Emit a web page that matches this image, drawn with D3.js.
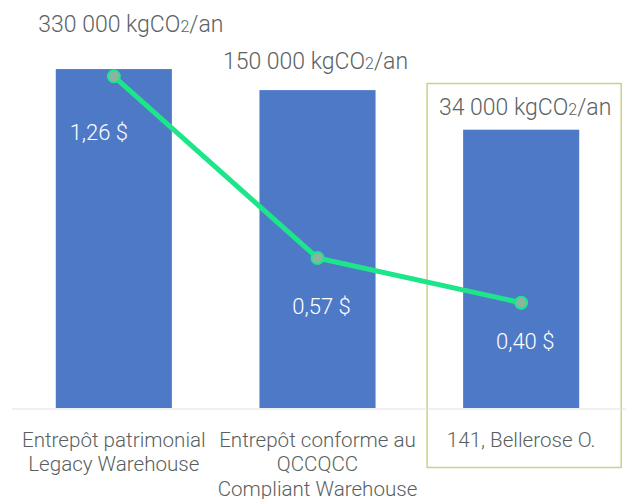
<!DOCTYPE html>
<html>
<head>
<meta charset="utf-8">
<script src="https://cdn.jsdelivr.net/npm/d3@7"></script>
<style>
  body { margin: 0; background: #fff; }
  text { font-family: Roboto, sans-serif; font-weight: 300; }
</style>
</head>
<body>
<div id="chart"></div>
<script>
// chart data
var categories = [
    ["Entrepôt patrimonial", "Legacy Warehouse"],
    ["Entrepôt conforme au", "QCCQCC", "Compliant Warehouse"],
    ["141, Bellerose O."]
];
var emissions = [330000, 150000, 34000];       // kgCO2/an
var emissionLabels = ["330 000", "150 000", "34 000"];
var costs = [1.26, 0.57, 0.40];                 // $
var costLabels = ["1,26 $", "0,57 $", "0,40 $"];

// set the dimensions
var width = 626,
    height = 499,
    baseline = 408,
    plotTop = 39.5;

var svg = d3.select("#chart").append("svg")
    .attr("width", width)
    .attr("height", height);

// scales
var x = d3.scaleBand()
    .domain(d3.range(categories.length))
    .range([12, 623])
    .paddingInner(0.43)
    .paddingOuter(0.215);

// bars are drawn on a log scale
var yBar = d3.scaleLog().domain([1, 1e6]).range([baseline, plotTop]);
var yCost = d3.scaleLinear().domain([0, 1.4]).range([baseline, plotTop]);

// highlight box round the last category
var last = categories.length - 1;
svg.append("rect")
    .attr("x", x(last) - 36)
    .attr("y", 83.5)
    .attr("width", x.bandwidth() + 78)
    .attr("height", 384)
    .attr("fill", "none")
    .attr("stroke", "#cfcf86")
    .attr("stroke-width", 1.5);

// axis baseline
svg.append("line")
    .attr("x1", 12).attr("x2", width)
    .attr("y1", baseline + 1).attr("y2", baseline + 1)
    .attr("stroke", "#dde1e4")
    .attr("stroke-width", 1.2);

// bars
svg.selectAll(".bar")
    .data(emissions)
    .enter().append("rect")
    .attr("class", "bar")
    .attr("x", function (d, i) { return x(i); })
    .attr("y", function (d) { return yBar(d); })
    .attr("width", x.bandwidth())
    .attr("height", function (d) { return baseline - yBar(d); })
    .attr("fill", "#4e79c7");

// emission labels above bars (offsets to dodge the line)
var emOffset = [[17, -37], [-2, -21], [4, -15]];
var emText = svg.selectAll(".em")
    .data(emissions)
    .enter().append("text")
    .attr("class", "em")
    .attr("x", function (d, i) { return x(i) + x.bandwidth() / 2 + emOffset[i][0]; })
    .attr("y", function (d, i) { return yBar(d) + emOffset[i][1]; })
    .attr("text-anchor", "middle")
    .attr("fill", "#5b6263")
    .style("font-size", "23px");
emText.append("tspan").text(function (d, i) { return emissionLabels[i] + " kgCO"; });
emText.append("tspan").style("font-size", "16px").text("2");
emText.append("tspan").text("/an");

// cost line
var line = d3.line()
    .x(function (d, i) { return x(i) + x.bandwidth() / 2; })
    .y(function (d) { return yCost(d); });

svg.append("path")
    .datum(costs)
    .attr("d", line)
    .attr("fill", "none")
    .attr("stroke", "#1de68a")
    .attr("stroke-width", 5)
    .attr("stroke-linejoin", "round");

svg.selectAll(".dot")
    .data(costs)
    .enter().append("circle")
    .attr("class", "dot")
    .attr("cx", function (d, i) { return x(i) + x.bandwidth() / 2; })
    .attr("cy", function (d) { return yCost(d); })
    .attr("r", 6)
    .attr("fill", "#8db3a2")
    .attr("stroke", "#1de68a")
    .attr("stroke-width", 2);

// cost labels inside bars
var costOffset = [[-15, 64], [4, 56], [4, 46]];
svg.selectAll(".cost")
    .data(costs)
    .enter().append("text")
    .attr("class", "cost")
    .attr("x", function (d, i) { return x(i) + x.bandwidth() / 2 + costOffset[i][0]; })
    .attr("y", function (d, i) { return yCost(d) + costOffset[i][1]; })
    .attr("text-anchor", "middle")
    .attr("fill", "#ffffff")
    .style("font-size", "22px")
    .text(function (d, i) { return costLabels[i]; });

// category labels
var cat = svg.selectAll(".cat")
    .data(categories)
    .enter().append("text")
    .attr("class", "cat")
    .attr("text-anchor", "middle")
    .attr("fill", "#595f60")
    .style("font-size", "20.6px");
cat.selectAll("tspan")
    .data(function (d, i) { return d.map(function (s) { return { s: s, i: i }; }); })
    .enter().append("tspan")
    .attr("x", function (d) { return x(d.i) + x.bandwidth() / 2; })
    .attr("y", function (d, j) { return 446.5 + j * 24.5; })
    .text(function (d) { return d.s; });
</script>
</body>
</html>
